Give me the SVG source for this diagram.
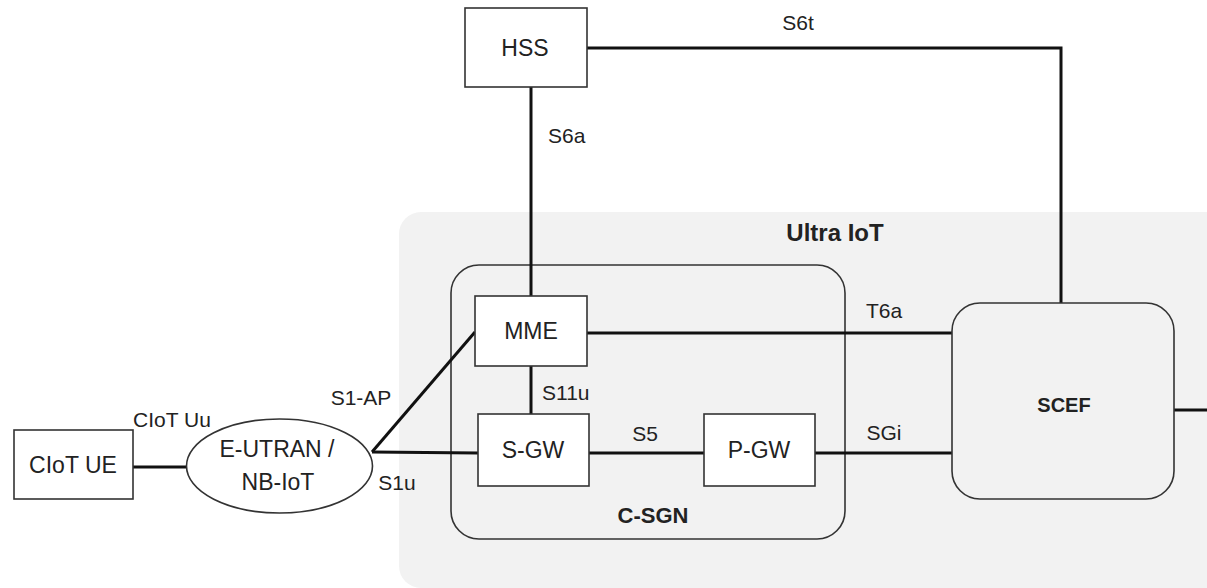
<svg xmlns="http://www.w3.org/2000/svg" width="1207" height="588" viewBox="0 0 1207 588">
<style>
.box{fill:#ffffff;stroke:#333333;stroke-width:1.6}
.grp{fill:none;stroke:#333333;stroke-width:1.6}
.lnk{fill:none;stroke:#111111;stroke-width:3}
text{font-family:"Liberation Sans",Arial,sans-serif;fill:#222222;dominant-baseline:central}
.nd{font-size:23px;text-anchor:middle}
.lb{font-size:21px}
.bd{font-weight:bold;text-anchor:middle}
</style>
<rect width="1207" height="588" fill="#ffffff"/>
<g id="ultra-iot">
<rect x="399" y="212" width="840" height="376" rx="22" ry="22" fill="#f2f2f2"/>
<text class="bd" x="835" y="232" font-size="24">Ultra IoT</text>
</g>
<g id="c-sgn">
<rect class="grp" x="451" y="265" width="394" height="274" rx="28" ry="28"/>
<text class="bd" x="653" y="515" font-size="22">C-SGN</text>
</g>
<g id="connectors">
<line class="lnk" x1="133" y1="467" x2="187" y2="467"/>
<line class="lnk" x1="372" y1="452" x2="475" y2="332"/>
<line class="lnk" x1="372" y1="452" x2="478" y2="453"/>
<line class="lnk" x1="531" y1="87" x2="531" y2="296"/>
<line class="lnk" x1="531" y1="366" x2="531" y2="414"/>
<line class="lnk" x1="589" y1="453" x2="704" y2="453"/>
<line class="lnk" x1="587" y1="333" x2="952" y2="333"/>
<line class="lnk" x1="815" y1="453" x2="952" y2="453"/>
<polyline class="lnk" points="587,48 1061,48 1061,303"/>
<line class="lnk" x1="1174" y1="410" x2="1207" y2="410"/>
<text class="lb" x="798" y="22" text-anchor="middle">S6t</text>
<text class="lb" x="548" y="135">S6a</text>
<text class="lb" x="884" y="310" text-anchor="middle">T6a</text>
<text class="lb" x="542" y="392">S11u</text>
<text class="lb" x="645" y="433" text-anchor="middle">S5</text>
<text class="lb" x="884" y="432" text-anchor="middle">SGi</text>
<text class="lb" x="172" y="419" text-anchor="middle">CIoT Uu</text>
<text class="lb" x="361" y="397" text-anchor="middle">S1-AP</text>
<text class="lb" x="397" y="482" text-anchor="middle">S1u</text>
</g>
<g id="hss">
<rect class="box" x="465" y="8" width="122" height="79"/>
<text class="nd" x="525" y="48" font-size="21">HSS</text>
</g>
<g id="ciot-ue">
<rect class="box" x="14" y="430" width="119" height="69"/>
<text class="nd" x="73" y="465">CIoT UE</text>
</g>
<g id="e-utran">
<ellipse class="box" cx="279.5" cy="466" rx="93" ry="47"/>
<text class="nd" x="277" y="449">E-UTRAN /</text>
<text class="nd" x="278" y="482">NB-IoT</text>
</g>
<g id="mme">
<rect class="box" x="475" y="296" width="112" height="70"/>
<text class="nd" x="531" y="331">MME</text>
</g>
<g id="s-gw">
<rect class="box" x="478" y="414" width="111" height="72"/>
<text class="nd" x="533" y="450">S-GW</text>
</g>
<g id="p-gw">
<rect class="box" x="704" y="414" width="111" height="72"/>
<text class="nd" x="759" y="450">P-GW</text>
</g>
<g id="scef">
<rect x="952" y="303" width="222" height="196" rx="28" ry="28" fill="#f2f2f2" stroke="#333333" stroke-width="1.6"/>
<text class="bd" x="1064" y="405" font-size="20">SCEF</text>
</g>
</svg>
